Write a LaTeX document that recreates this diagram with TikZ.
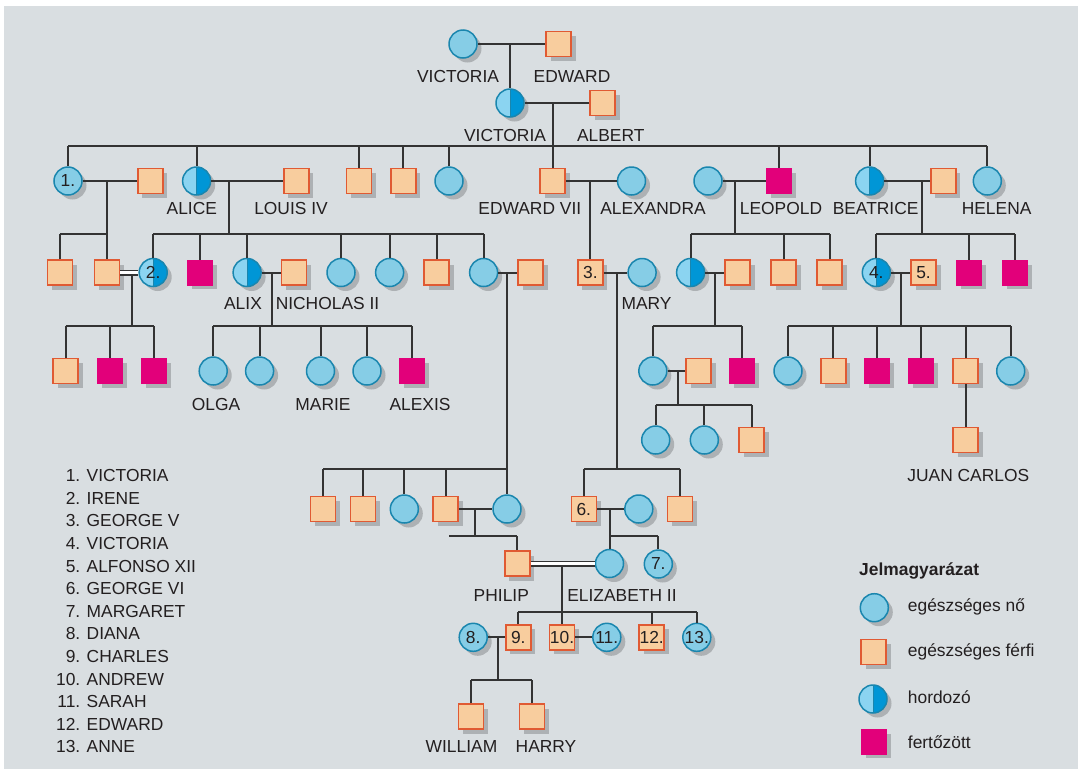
\documentclass[tikz,border=0pt]{standalone}
\usepackage{fontspec}
\setmainfont{Liberation Sans}
\usetikzlibrary{shadows}
\definecolor{bgc}{HTML}{D9DEE1}
\definecolor{femfill}{HTML}{86CDE6}
\definecolor{femline}{HTML}{1A86AE}
\definecolor{malfill}{HTML}{F8CD9E}
\definecolor{malline}{HTML}{E05A33}
\definecolor{infect}{HTML}{E2007A}
\definecolor{carlight}{HTML}{8BD4F1}
\definecolor{cardark}{HTML}{0096D6}
\definecolor{lnc}{HTML}{333333}
\definecolor{txt}{HTML}{231F20}
\tikzset{
  sym/.style={draw, line width=1.5pt, inner sep=0pt, text=txt,
    font=\fontsize{17.4}{20}\selectfont,
    drop shadow={shadow xshift=4.5pt, shadow yshift=-4.5pt, opacity=0.2, fill=black}},
  fem/.style={sym, circle, minimum size=28pt, fill=femfill, draw=femline},
  mal/.style={sym, rectangle, minimum size=25pt, fill=malfill, draw=malline},
  inf/.style={sym, rectangle, minimum size=24.5pt, fill=infect, draw=infect},
  car/.style={fem, fill=carlight, path picture={
      \fill[cardark] (path picture bounding box.north) rectangle (path picture bounding box.south east);
      \draw[femline, line width=1pt] (path picture bounding box.north) -- (path picture bounding box.south);}},
  lbl/.style={font=\fontsize{17.4}{20}\selectfont, text=txt, inner sep=0pt, anchor=base},
  ln/.style={draw=lnc, line width=2pt},
  dbl/.style={draw=lnc, line width=1.6pt, double=white, double distance=2.8pt},
}
\begin{document}
\begin{tikzpicture}[x=1pt,y=-1pt]
\useasboundingbox (0,0) rectangle (1078,769);
\fill[white] (0,0) rectangle (1078,769);
\fill[bgc] (4,6) rectangle (1078,769);

% ---------- generation 0
\node[fem] (v0) at (463,44) {};
\node[mal] (ed0) at (558.6,44) {};
\coordinate (m0) at (510,44);
\node[lbl] (tv0) at (458,82.1) {VICTORIA};
\node[lbl] (ted0) at (572,82.1) {EDWARD};

% ---------- generation 1
\node[car] (v1) at (510,103) {};
\node[mal] (al1) at (602.7,103) {};
\coordinate (m1) at (552.7,103);
\node[lbl] (tv1) at (505,141.1) {VICTORIA};
\node[lbl] (tal1) at (610.7,141.1) {ALBERT};
\coordinate (b1) at (0,146);

% ---------- generation 2
\node[fem] (c1) at (68,181) {1.};
\node[mal] (h1) at (150.4,181) {};
\coordinate (m2a) at (107,181);
\node[car] (alice) at (196.6,181) {};
\node[mal] (louis) at (296.4,181) {};
\coordinate (m2b) at (228.6,181);
\node[mal] (s3) at (359,181) {};
\node[mal] (s4) at (403.3,181) {};
\node[fem] (s5) at (449,181) {};
\node[mal] (ed7) at (552.7,181) {};
\node[fem] (alex) at (631.5,181) {};
\coordinate (m2c) at (590.4,181);
\node[fem] (leow) at (708,181) {};
\node[inf] (leo) at (779,181) {};
\coordinate (m2d) at (735,181);
\node[car] (bea) at (869.6,181) {};
\node[mal] (bh) at (943.3,181) {};
\coordinate (m2e) at (922,181);
\node[fem] (hel) at (987.3,181) {};
\node[lbl] (talice) at (191.8,214.7) {ALICE};
\node[lbl] (tlouis) at (291,214.7) {LOUIS IV};
\node[lbl] (ted7) at (529.8,214.7) {EDWARD VII};
\node[lbl] (talex) at (653,214.7) {ALEXANDRA};
\node[lbl] (tleo) at (781,214.7) {LEOPOLD};
\node[lbl] (tbea) at (875.6,214.7) {BEATRICE};
\node[lbl] (thel) at (996.6,214.7) {HELENA};
\coordinate (b2) at (0,233.7);

% ---------- generation 3
\node[mal] (g3a) at (59.8,272.5) {};
\node[mal] (henry) at (107,272.5) {};
\node[car] (irene) at (153.2,272.5) {2.};
\coordinate (m3a) at (131.5,274.7);
\node[inf] (fri) at (199.9,272.5) {};
\node[car] (alix) at (247.1,272.5) {};
\node[mal] (nich) at (294.1,272.5) {};
\coordinate (m3b) at (272,272.5);
\node[fem] (a4) at (341,272.5) {};
\node[fem] (a5) at (389.6,272.5) {};
\node[mal] (a6) at (436.5,272.5) {};
\node[fem] (a7) at (483.6,272.5) {};
\node[mal] (andr) at (530.5,272.5) {};
\coordinate (m3c) at (507,272.5);
\node[mal] (g5) at (590.4,272.5) {3.};
\node[fem] (mary) at (642.1,272.5) {};
\coordinate (m3d) at (616.8,272.5);
\node[car] (alb) at (690.6,272.5) {};
\node[mal] (alh) at (737.5,272.5) {};
\coordinate (m3e) at (714.7,272.5);
\node[mal] (l2) at (783.5,272.5) {};
\node[mal] (l3) at (829.5,272.5) {};
\node[car] (ve) at (876.3,272.5) {4.};
\node[mal] (alf) at (923.5,272.5) {5.};
\coordinate (m3f) at (900.7,272.5);
\node[inf] (b2i) at (969,272.5) {};
\node[inf] (b3i) at (1015,272.5) {};
\node[lbl] (talix) at (243,309.3) {ALIX};
\node[lbl] (tnich) at (327.5,309.3) {NICHOLAS II};
\node[lbl] (tmary) at (646.6,309.3) {MARY};
\coordinate (b3) at (0,325.5);

% ---------- generation 4
\node[mal] (i1) at (65.6,371) {};
\node[inf] (i2) at (110,371) {};
\node[inf] (i3) at (154,371) {};
\node[fem] (n1) at (213.2,371) {};
\node[fem] (n2) at (259.6,371) {};
\node[fem] (n3) at (320.5,371) {};
\node[fem] (n4) at (367,371) {};
\node[inf] (n5) at (412.2,371) {};
\node[lbl] (tn1) at (216,410) {OLGA};
\node[lbl] (tn3) at (323,410) {MARIE};
\node[lbl] (tn5) at (420,410) {ALEXIS};
\node[fem] (la) at (652.8,371) {};
\node[mal] (lb) at (698.5,371) {};
\coordinate (m4a) at (678,371);
\node[inf] (lc) at (742.2,371) {};
\node[fem] (e1) at (788,371) {};
\node[mal] (e2) at (833.3,371) {};
\node[inf] (e3) at (877,371) {};
\node[inf] (e4) at (921,371) {};
\node[mal] (e5) at (965.5,371) {};
\node[fem] (e6) at (1010.7,371) {};
\coordinate (b4) at (0,405.3);
\node[fem] (k1) at (655.7,440) {};
\node[fem] (k2) at (704.3,440) {};
\node[mal] (k3) at (751.7,440) {};
\node[mal] (jc) at (965.5,440) {};
\node[lbl] (tjc) at (968.3,481.8) {JUAN CARLOS};

% ---------- generation 5
\coordinate (b5) at (0,469);
\node[mal] (p1) at (323.2,509) {};
\node[mal] (p2) at (363.2,509) {};
\node[fem] (p3) at (404.3,509) {};
\node[mal] (p4) at (445.5,509) {};
\node[fem] (p5) at (507,509) {};
\coordinate (m5a) at (474.7,509);
\node[mal] (g6) at (583.8,509) {6.};
\node[fem] (qm) at (638.8,509) {};
\coordinate (m5b) at (609.5,509);
\node[mal] (mk) at (680.2,509) {};
\coordinate (b5b) at (0,535.7);
\coordinate (free) at (449.3,535.7);

% ---------- generation 6
\node[mal] (ph) at (517.3,563.5) {};
\node[fem] (el) at (609.5,563.5) {};
\node[fem] (mg) at (658.3,564) {7.};
\coordinate (m6) at (562,565.7);
\node[lbl] (tph) at (501.3,601.8) {PHILIP};
\node[lbl] (tel) at (622,601.8) {ELIZABETH II};
\coordinate (b6) at (0,612.3);

% ---------- generation 7
\node[fem] (di) at (473.2,637.3) {8.};
\node[mal] (ch) at (518.3,637.3) {9.};
\coordinate (m7) at (498.3,637.3);
\node[mal] (an) at (562,637.3) {10.};
\node[fem] (sa) at (606.8,637.3) {11.};
\node[mal] (edw) at (651.7,637.3) {12.};
\node[fem] (ann) at (696.8,637.3) {13.};
\coordinate (b7) at (0,680);

% ---------- generation 8
\node[mal] (wi) at (471.2,716.7) {};
\node[mal] (ha) at (532.2,716.7) {};
\node[lbl] (twi) at (461.5,752.8) {WILLIAM};
\node[lbl] (tha) at (546,752.8) {HARRY};

% ---------- connectors
\draw[ln] (v0) -- (ed0);
\draw[ln] (m0) -- (v1);
\draw[ln] (v1) -- (al1);
\draw[ln] (m1) -- (ed7);
\draw[ln] (c1 |- b1) -- (hel |- b1);
\foreach \k in {c1,alice,s3,s4,s5,leo,bea,hel} \draw[ln] (\k) -- (\k |- b1);

\draw[ln] (c1) -- (h1);
\draw[ln] (alice) -- (louis);
\draw[ln] (ed7) -- (alex);
\draw[ln] (leow) -- (leo);
\draw[ln] (bea) -- (bh);

\draw[ln] (m2a) -- (henry);
\draw[ln] (g3a |- b2) -- (henry |- b2);
\draw[ln] (g3a) -- (g3a |- b2);
\draw[ln] (m2b) -- (m2b |- b2);
\draw[ln] (irene |- b2) -- (a7 |- b2);
\foreach \k in {irene,fri,alix,a4,a5,a6,a7} \draw[ln] (\k) -- (\k |- b2);
\draw[ln] (m2c) -- (g5);
\draw[ln] (m2d) -- (m2d |- b2);
\draw[ln] (alb |- b2) -- (l3 |- b2);
\foreach \k in {alb,l2,l3} \draw[ln] (\k) -- (\k |- b2);
\draw[ln] (m2e) -- (m2e |- b2);
\draw[ln] (ve |- b2) -- (b3i |- b2);
\foreach \k in {ve,b2i,b3i} \draw[ln] (\k) -- (\k |- b2);

\draw[dbl] (henry) -- (irene);
\draw[ln] (m3a) -- (m3a |- b3);
\draw[ln] (i1 |- b3) -- (i3 |- b3);
\foreach \k in {i1,i2,i3} \draw[ln] (\k) -- (\k |- b3);
\draw[ln] (alix) -- (nich);
\draw[ln] (m3b) -- (m3b |- b3);
\draw[ln] (n1 |- b3) -- (n5 |- b3);
\foreach \k in {n1,n2,n3,n4,n5} \draw[ln] (\k) -- (\k |- b3);
\draw[ln] (a7) -- (andr);
\draw[ln] (m3c) -- (p5);
\draw[ln] (g5) -- (mary);
\draw[ln] (m3d) -- (m3d |- b5);
\draw[ln] (alb) -- (alh);
\draw[ln] (m3e) -- (m3e |- b3);
\draw[ln] (la |- b3) -- (lc |- b3);
\foreach \k in {la,lc} \draw[ln] (\k) -- (\k |- b3);
\draw[ln] (ve) -- (alf);
\draw[ln] (m3f) -- (m3f |- b3);
\draw[ln] (e1 |- b3) -- (e6 |- b3);
\foreach \k in {e1,e2,e3,e4,e5,e6} \draw[ln] (\k) -- (\k |- b3);

\draw[ln] (la) -- (lb);
\draw[ln] (m4a) -- (m4a |- b4);
\draw[ln] (k1 |- b4) -- (k3 |- b4);
\foreach \k in {k1,k2,k3} \draw[ln] (\k) -- (\k |- b4);
\draw[ln] (e5) -- (jc);

\draw[ln] (p1 |- b5) -- (p5 |- b5);
\foreach \k in {p1,p2,p3,p4} \draw[ln] (\k) -- (\k |- b5);
\draw[ln] (p4) -- (p5);
\draw[ln] (m5a) -- (m5a |- b5b);
\draw[ln] (free) -- (ph |- b5b);
\draw[ln] (ph) -- (ph |- b5b);
\draw[ln] (g6 |- b5) -- (mk |- b5);
\foreach \k in {g6,mk} \draw[ln] (\k) -- (\k |- b5);
\draw[ln] (g6) -- (qm);
\draw[ln] (m5b) -- (el);
\draw[ln] (m5b |- b5b) -- (mg |- b5b);
\draw[ln] (mg) -- (mg |- b5b);

\draw[dbl] (ph) -- (el);
\draw[ln] (m6) -- (an);
\draw[ln] (ch |- b6) -- (ann |- b6);
\foreach \k in {ch,edw,ann} \draw[ln] (\k) -- (\k |- b6);
\draw[ln] (di) -- (ch);
\draw[ln] (an) -- (sa);
\draw[ln] (m7) -- (m7 |- b7);
\draw[ln] (wi |- b7) -- (ha |- b7);
\foreach \k in {wi,ha} \draw[ln] (\k) -- (\k |- b7);

% ---------- numbered name list
\foreach \n/\t [count=\i from 0] in {1/VICTORIA,2/IRENE,3/GEORGE V,4/VICTORIA,5/ALFONSO XII,6/GEORGE VI,7/MARGARET,8/DIANA,9/CHARLES,10/ANDREW,11/SARAH,12/EDWARD,13/ANNE}{
  \node[lbl, anchor=base east] (ln\n) at (80.5,481.8+\i*22.58) {\n.};
  \node[lbl, anchor=base west] (lt\n) at (86.5,481.8+\i*22.58) {\t};
}

% ---------- legend
\node[lbl, anchor=base west, font=\fontsize{17.4}{20}\selectfont\bfseries] (lgt) at (859,575.3) {Jelmagyarázat};
\node[fem] (lg1) at (874.3,607.7) {};
\node[lbl, anchor=base west] (lg1t) at (907.7,611.7) {egészséges nő};
\node[mal] (lg2) at (873.5,652) {};
\node[lbl, anchor=base west] (lg2t) at (907.7,656.7) {egészséges férfi};
\node[car] (lg3) at (873,699) {};
\node[lbl, anchor=base west] (lg3t) at (907.7,703.3) {hordozó};
\node[inf] (lg4) at (874,741.7) {};
\node[lbl, anchor=base west] (lg4t) at (907.7,748.3) {fertőzött};
\end{tikzpicture}
\end{document}
